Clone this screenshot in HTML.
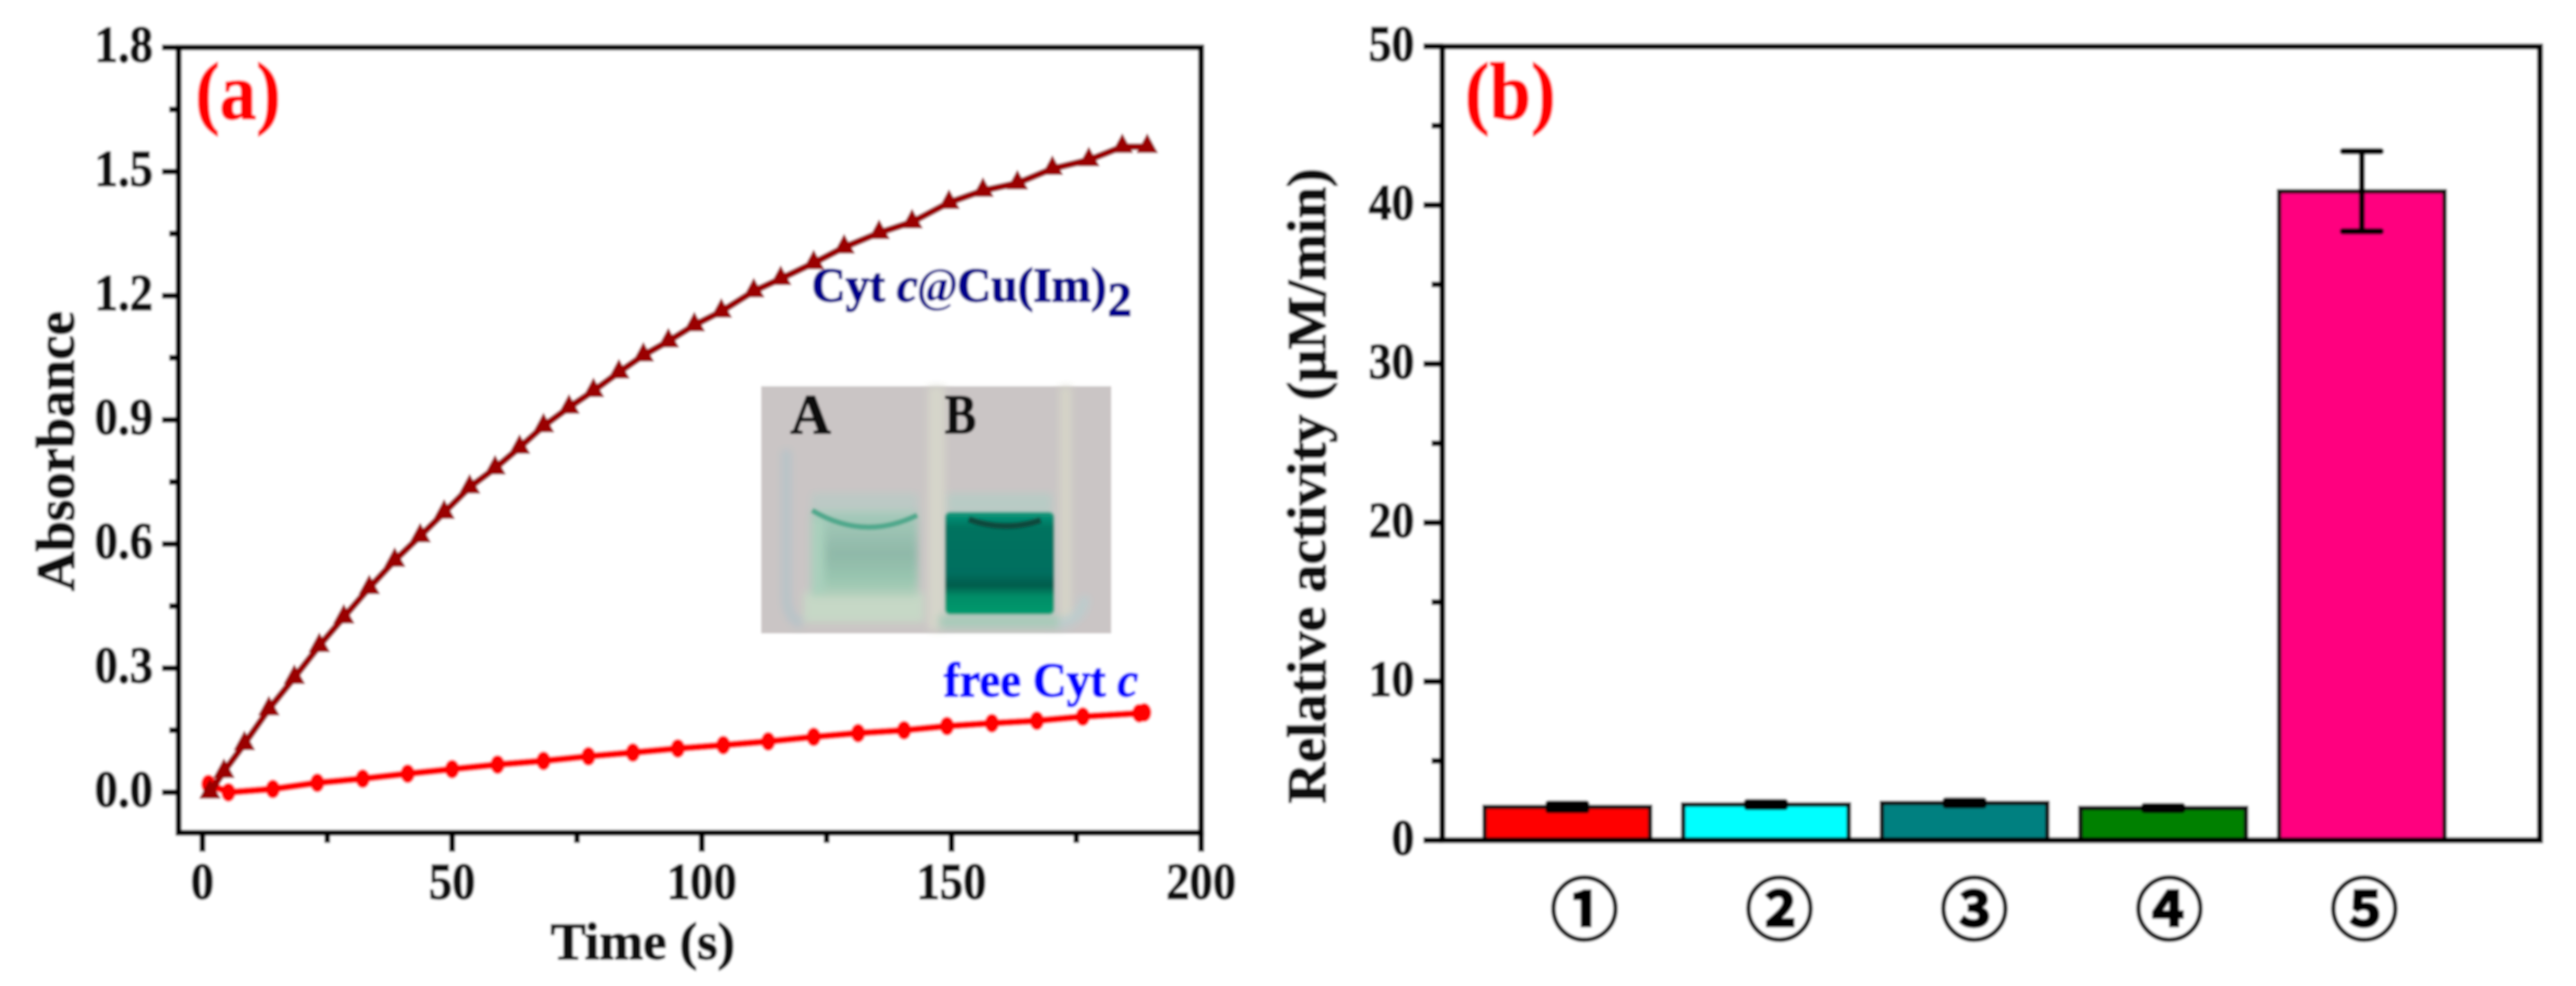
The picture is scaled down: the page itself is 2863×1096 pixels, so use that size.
<!DOCTYPE html>
<html lang="en">
<head>
<meta charset="utf-8">
<title>Absorbance and relative activity of Cyt c@Cu(Im)2</title>
<style>
html,body{margin:0;padding:0;background:#fff;width:2863px;height:1096px;overflow:hidden}
svg{display:block}
text{font-family:"Liberation Serif","Noto Serif CJK SC",serif;font-weight:bold}
</style>
</head>
<body>
<svg id="chart" xmlns="http://www.w3.org/2000/svg" width="2863" height="1096" viewBox="0 0 2863 1096">
  <defs>
    <filter id="soft" x="-2%" y="-2%" width="104%" height="104%"><feGaussianBlur stdDeviation="1.2"/></filter>
    <filter id="photoBlur" x="-5%" y="-5%" width="110%" height="110%"><feGaussianBlur stdDeviation="13"/></filter>
    <linearGradient id="tealFill" x1="0" y1="0" x2="0" y2="1">
      <stop offset="0" stop-color="#0a9a7c"/><stop offset=".15" stop-color="#00735f"/><stop offset=".6" stop-color="#006e5e"/><stop offset=".72" stop-color="#005c4c"/><stop offset=".82" stop-color="#008c66"/><stop offset="1" stop-color="#009a6e"/>
    </linearGradient>
    <linearGradient id="mintFill" x1="0" y1="0" x2="0" y2="1">
      <stop offset="0" stop-color="#a6cbbb"/><stop offset=".5" stop-color="#8fb8a8"/><stop offset=".8" stop-color="#99c6b0"/><stop offset="1" stop-color="#b4d0bc"/>
    </linearGradient>
  </defs>
  <g id="stage" filter="url(#soft)">
    <rect width="2863" height="1096" fill="#ffffff"/>

    <g id="panelA">
      <rect x="198.5" y="52.7" width="1136.5" height="873" fill="none" stroke="#000" stroke-width="6.5"/>
      <text x="217" y="132" font-size="90" textLength="95" lengthAdjust="spacingAndGlyphs" fill="#ff0000">(a)</text>
      <text transform="translate(82,657) rotate(-90)" font-size="60" textLength="311" lengthAdjust="spacingAndGlyphs" fill="#111">Absorbance</text>
      <text x="612" y="1066" font-size="58" textLength="205" lengthAdjust="spacingAndGlyphs" fill="#111">Time (s)</text>
      <g transform="translate(800,400) scale(0.33333)">
        <rect x="138" y="88" width="1167" height="824" fill="#cac5c5"/>
        <g filter="url(#photoBlur)">
          <rect x="695" y="90" width="55" height="810" fill="#d6d6ca"/>
          <rect x="1135" y="90" width="36" height="780" fill="#d6d5c8"/>
          <path d="M222 300 L222 790 Q226 868 275 880" fill="none" stroke="#b6c3c8" stroke-width="30"/>
          <path d="M1110 880 Q1205 880 1218 790" fill="none" stroke="#bccccd" stroke-width="34"/>
          <rect x="305" y="445" width="355" height="70" fill="#bcc9c5"/>
          <rect x="280" y="775" width="400" height="100" fill="#c6d8c6"/>
          <rect x="305" y="505" width="355" height="285" fill="url(#mintFill)"/>
          <rect x="305" y="530" width="45" height="250" fill="#a9d0bc"/>
          <rect x="758" y="445" width="350" height="70" fill="#b8cbc5"/>
          <rect x="730" y="850" width="400" height="45" fill="#a8cab9"/>
        </g>
        <rect x="752" y="508" width="362" height="340" rx="16" fill="url(#tealFill)" style="filter:blur(3px)"/>
        <path d="M308 502 Q480 605 658 518" fill="none" stroke="#4fa88c" stroke-width="17" style="filter:blur(2px)"/>
        <path d="M830 532 Q950 575 1070 535" fill="none" stroke="#0a4a3e" stroke-width="20" style="filter:blur(2px)"/>
        <text x="235" y="245" font-size="186" textLength="135" lengthAdjust="spacingAndGlyphs" fill="#0a0a0a">A</text>
        <text x="750" y="245" font-size="186" textLength="105" lengthAdjust="spacingAndGlyphs" fill="#0a0a0a">B</text>
      </g>
      <g id="axesA"></g>
      <g id="seriesA"></g>
      <text x="902" y="335" font-size="54" textLength="328" lengthAdjust="spacingAndGlyphs" fill="#00008b">Cyt <tspan font-style="italic">c</tspan><tspan font-style="italic" stroke-width="0">@</tspan>Cu(Im)</text>
      <text x="1231" y="351" font-size="54" textLength="27" lengthAdjust="spacingAndGlyphs" fill="#00008b">2</text>
      <text x="1049" y="774" font-size="54" textLength="216" lengthAdjust="spacingAndGlyphs" fill="#0000ff">free Cyt <tspan font-style="italic">c</tspan></text>
    </g>

    <g id="panelB">
      <text x="1628" y="132" font-size="90" textLength="101" lengthAdjust="spacingAndGlyphs" fill="#ff0000">(b)</text>
      <text transform="translate(1473,893) rotate(-90)" font-size="61" textLength="706" lengthAdjust="spacingAndGlyphs" fill="#111">Relative activity (µM/min)</text>
      <g id="barsB"></g>
      <rect x="1603" y="51.7" width="1220" height="882.3" fill="none" stroke="#000" stroke-width="6.5"/>
      <g id="axesB"></g>
      <g id="errorsB"></g>
    </g>
  </g>
</svg>
<script>
// Panel (a) data
const timeCyt = [1.5, 4.3, 8.4, 13.3, 18.4, 23.4, 28.3, 33.4, 38.5, 43.6, 48.4, 53.5, 58.6, 63.5, 68.3, 73.4, 78.3, 83.4, 88.3, 93.3, 98.5, 103.9, 110.4, 115.8, 122.4, 128.5, 135.5, 142.1, 149.5, 156.3, 163.2, 170.2, 177.5, 184.2, 189.2];
const absorbanceCyt = [0.0, 0.05, 0.117, 0.201, 0.277, 0.354, 0.423, 0.494, 0.56, 0.619, 0.676, 0.737, 0.783, 0.833, 0.885, 0.93, 0.97, 1.015, 1.056, 1.09, 1.129, 1.162, 1.211, 1.241, 1.279, 1.317, 1.352, 1.378, 1.425, 1.454, 1.472, 1.507, 1.528, 1.56, 1.56];
const timeFree = [1.2, 5.2, 14.1, 23, 32.1, 41.1, 50, 59.1, 68.3, 77.3, 86.2, 95.2, 104.3, 113.3, 122.4, 131.3, 140.5, 149.1, 158.1, 167.1, 176.3, 187.6, 188.6];
const absorbanceFree = [0.02, 0.0, 0.008, 0.023, 0.033, 0.045, 0.056, 0.067, 0.076, 0.087, 0.096, 0.106, 0.114, 0.123, 0.134, 0.143, 0.15, 0.16, 0.167, 0.173, 0.183, 0.191, 0.193];
const xTickLabelsA = ['0', '50', '100', '150', '200'];
const xMinorTicksA = [25, 75, 125, 175];
const yTickLabelsA = ['0.0', '0.3', '0.6', '0.9', '1.2', '1.5', '1.8'];
const yMinorTicksA = [0.15, 0.45, 0.75, 1.05, 1.35, 1.65];

// Panel (b) data
const categories = ['①', '②', '③', '④', '⑤'];
const activity = [2.1, 2.25, 2.35, 2.03, 40.87];
const activityError = [0.2, 0.15, 0.15, 0.12, 2.52];
const yTickLabelsB = ['0', '10', '20', '30', '40', '50'];
const yMinorTicksB = [5, 15, 25, 35, 45];
const barFills = ['#ff0000', '#00ffff', '#008080', '#008000', '#ff007f'];

const NS = 'http://www.w3.org/2000/svg';
const xA = t => 225 + t * 5.55;
const yA = v => 880.7 - v * 460;
const yB = v => 934 - v * 17.65;
const xB = i => 1742 + i * 220.75;
const xCat = i => 1761 + i * 216.7;
const BAR_W = 184;
const AXIS_W = 6.5;

function mk(tag, parent, attrs) {
  const e = document.createElementNS(NS, tag);
  for (const k in attrs) e.setAttribute(k, attrs[k]);
  parent.appendChild(e);
  return e;
}

const axesA = document.getElementById('axesA');
const seriesA = document.getElementById('seriesA');
const axesB = document.getElementById('axesB');
const barsB = document.getElementById('barsB');
const errorsB = document.getElementById('errorsB');

// Panel (a) x axis
xTickLabelsA.forEach(label => {
  const x = xA(parseFloat(label));
  const tick = mk('line', axesA, {x1: x, x2: x, y1: 925, y2: 946.7, stroke: '#000', 'stroke-width': AXIS_W});
  
  
  const txt = mk('text', axesA, {transform: `translate(${x},999) scale(0.91,1)`, 'text-anchor': 'middle', 'font-size': 57, fill: '#111'});
  
  
  txt.textContent = label;
});
xMinorTicksA.forEach(v => {
  const x = xA(v);
  const tick = mk('line', axesA, {x1: x, x2: x, y1: 925, y2: 937, stroke: '#000', 'stroke-width': AXIS_W});
  
  
});

// Panel (a) y axis
yTickLabelsA.forEach(label => {
  const y = yA(parseFloat(label));
  const tick = mk('line', axesA, {x1: 180, x2: 199, y1: y, y2: y, stroke: '#000', 'stroke-width': AXIS_W});
  
  
  const txt = mk('text', axesA, {transform: `translate(170,${y + 16}) scale(0.91,1)`, 'text-anchor': 'end', 'font-size': 57, fill: '#111'});
  
  
  txt.textContent = label;
});
yMinorTicksA.forEach(v => {
  const y = yA(v);
  const tick = mk('line', axesA, {x1: 188, x2: 199, y1: y, y2: y, stroke: '#000', 'stroke-width': AXIS_W});
  
  
});

// Free Cyt c series
const freeLine = mk('polyline', seriesA, {
  points: timeFree.map((t, i) => xA(t) + ',' + yA(absorbanceFree[i])).join(' '),
  fill: 'none', stroke: '#ff0000', 'stroke-width': 8, 'stroke-linejoin': 'round'
});


timeFree.forEach((t, i) => {
  const dot = mk('ellipse', seriesA, {cx: xA(t), cy: yA(absorbanceFree[i]), rx: 8, ry: 10.5, fill: '#ff0000'});
  
  
});

// Cyt c@Cu(Im)2 series
const cytLine = mk('polyline', seriesA, {
  points: timeCyt.map((t, i) => xA(t) + ',' + yA(absorbanceCyt[i])).join(' '),
  fill: 'none', stroke: '#9a0000', 'stroke-width': 7.5, 'stroke-linejoin': 'round'
});


timeCyt.forEach((t, i) => {
  const x = xA(t), y = yA(absorbanceCyt[i]);
  const tri = mk('polygon', seriesA, {points: `${x},${y - 15} ${x + 12},${y + 7} ${x - 12},${y + 7}`, fill: '#9a0000'});
  
  
});

// Panel (b) bars
activity.forEach((v, i) => {
  const bar = mk('rect', barsB, {x: xB(i) - BAR_W / 2, y: yB(v), width: BAR_W, height: yB(0) - yB(v), fill: barFills[i], stroke: '#111', 'stroke-width': 5});
  
  
});

// Panel (b) error bars
activity.forEach((v, i) => {
  const cx = xB(i);
  const hi = yB(v + activityError[i]);
  const lo = yB(v - activityError[i]);
  const stem = mk('line', errorsB, {x1: cx, x2: cx, y1: hi, y2: lo, stroke: '#000', 'stroke-width': 6.5});
  
  
  const capTop = mk('line', errorsB, {x1: cx - 21, x2: cx + 21, y1: hi, y2: hi, stroke: '#000', 'stroke-width': 7, 'stroke-linecap': 'round'});
  
  
  const capBottom = mk('line', errorsB, {x1: cx - 21, x2: cx + 21, y1: lo, y2: lo, stroke: '#000', 'stroke-width': 7, 'stroke-linecap': 'round'});
  
  
});

// Panel (b) y axis
yTickLabelsB.forEach(label => {
  const y = yB(parseFloat(label));
  const tick = mk('line', axesB, {x1: 1582, x2: 1604, y1: y, y2: y, stroke: '#000', 'stroke-width': AXIS_W});
  
  
  const txt = mk('text', axesB, {transform: `translate(1572,${y + 16}) scale(0.91,1)`, 'text-anchor': 'end', 'font-size': 56, fill: '#111'});
  
  
  txt.textContent = label;
});
yMinorTicksB.forEach(v => {
  const y = yB(v);
  const tick = mk('line', axesB, {x1: 1591, x2: 1604, y1: y, y2: y, stroke: '#000', 'stroke-width': AXIS_W});
  
  
});

// Panel (b) category labels
categories.forEach((label, i) => {
  const txt = mk('text', axesB, {x: xCat(i), y: 1039, 'text-anchor': 'middle', 'font-size': 76, fill: '#000', stroke: '#000', 'stroke-width': 2.2});
  txt.style.fontFamily = '"Noto Sans CJK JP","DejaVu Sans",sans-serif';
  
  
  txt.textContent = label;
});

// Embolden the text to match the heavy, slightly soft print weight of the figure
document.querySelectorAll('svg text').forEach(t => {
  if (t.hasAttribute('stroke')) return;
  t.setAttribute('stroke', t.getAttribute('fill'));
  t.setAttribute('stroke-width', t.closest('[transform*="scale(0.33333)"]') ? 4 : 1.4);
});
</script>
</body>
</html>
